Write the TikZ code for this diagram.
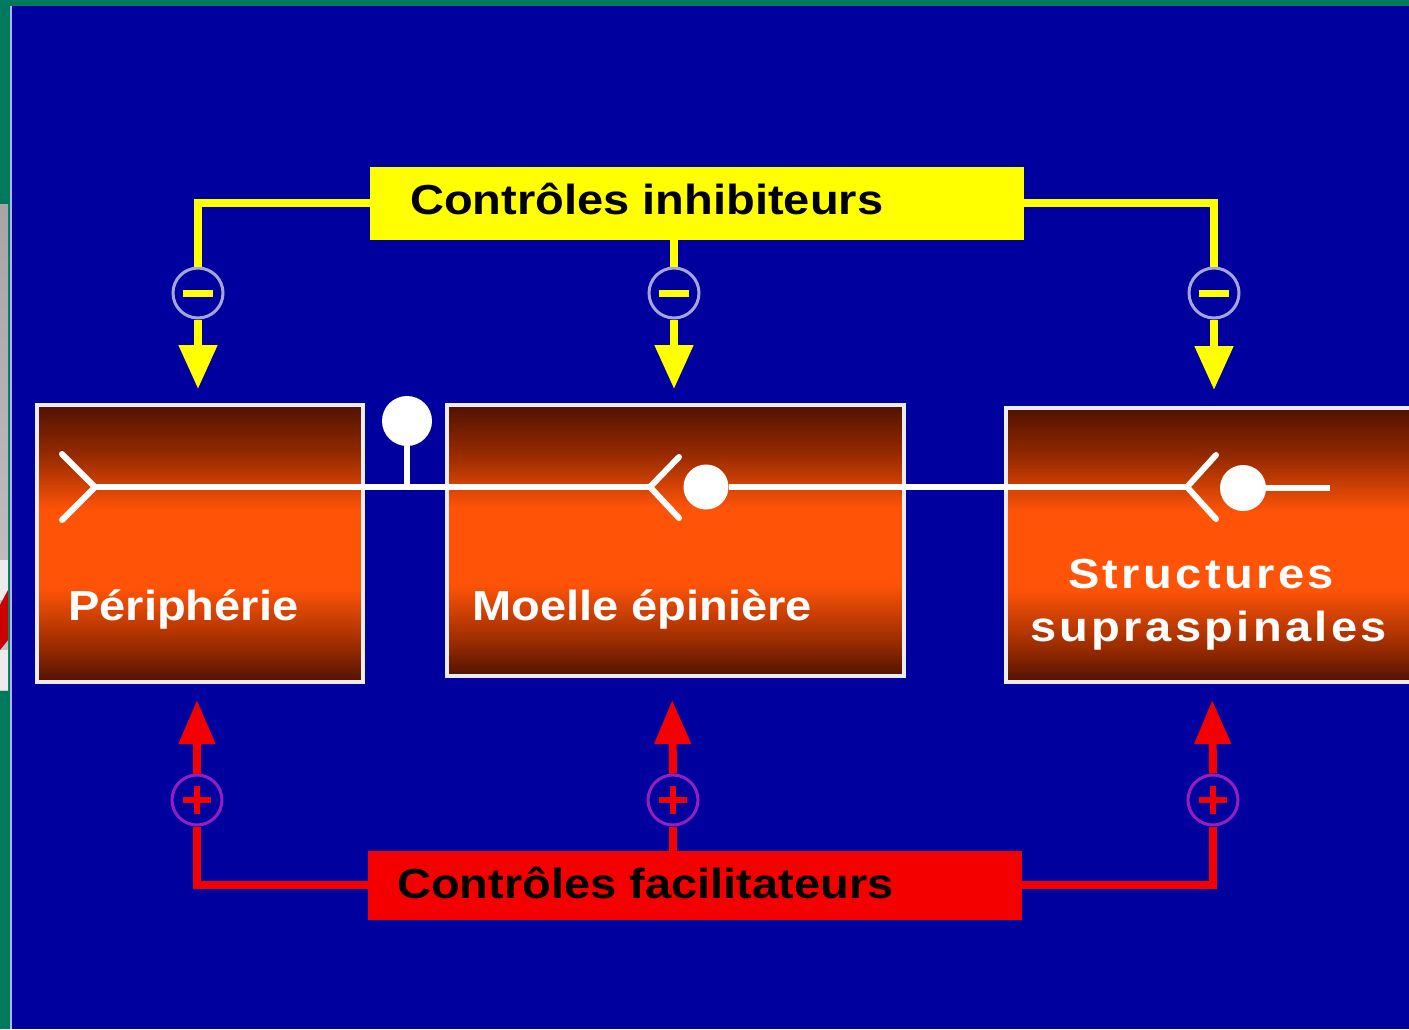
\documentclass[tikz,border=0pt]{standalone}
\usepackage{fontspec}
\setmainfont{Liberation Sans}
\newfontfamily\lblfont[FakeStretch=1.12]{Liberation Sans}
\newfontfamily\lblspaced[FakeStretch=1.12,LetterSpace=8]{Liberation Sans}
\usetikzlibrary{arrows.meta}

\definecolor{bgblue}{RGB}{0,0,158}
\definecolor{edgegreen}{RGB}{0,122,92}
\definecolor{ctlyellow}{RGB}{255,255,0}
\definecolor{ctlred}{RGB}{245,0,0}
\definecolor{ringgrey}{RGB}{165,165,215}
\definecolor{ringpurple}{RGB}{150,30,190}
\definecolor{brdark}{RGB}{80,18,0}
\definecolor{brmid}{RGB}{150,42,0}
\definecolor{orbright}{RGB}{255,84,8}
\definecolor{boxedge}{RGB}{235,235,240}

% vertical brown-orange-brown fill of the three structure boxes
\pgfdeclareverticalshading{structshade}{100bp}{
  color(0bp)=(brdark); color(25bp)=(brdark);
  color(31bp)=(brmid); color(42bp)=(orbright);
  color(56bp)=(orbright); color(66bp)=(brmid);
  color(75bp)=(brdark); color(100bp)=(brdark)}

\tikzset{
  x=1pt, y=-1pt,
  structbox/.style={draw=boxedge, line width=3.5pt, shading=structshade},
  ctlbox/.style={draw=none, minimum height=#1, inner sep=0pt},
  boxlabel/.style={text=white, inner sep=0pt, font=\lblfont\bfseries\fontsize{42}{48}\selectfont},
  ctllabel/.style={text=black, inner sep=0pt, font=\lblfont\bfseries\fontsize{42}{48}\selectfont},
  inhibline/.style={draw=ctlyellow, line width=8pt},
  facilline/.style={draw=ctlred, line width=8pt},
  inhibarrow/.style={inhibline, -{Triangle[width=37pt,length=44pt]}, shorten >=16pt},
  facilarrow/.style={facilline, -{Triangle[width=35pt,length=44pt]}, shorten >=18pt},
  minusring/.style={circle, draw=ringgrey, line width=3pt, fill=bgblue, minimum size=50pt, inner sep=0pt},
  plusring/.style={circle, draw=ringpurple, line width=3pt, fill=bgblue, minimum size=50pt, inner sep=0pt},
  axon/.style={draw=white, line width=6pt},
  fork/.style={draw=white, line width=6pt, line cap=round},
  soma/.style={circle, fill=white, inner sep=0pt, minimum size=#1}
}

\begin{document}
\begin{tikzpicture}
\useasboundingbox (0,0) rectangle (1409,1029);

% backdrop and the frame at the left and top
\fill[bgblue] (0,0) rectangle (1409,1029);
\fill[edgegreen] (0,0) rectangle (1409,6);
\fill[edgegreen] (0,0) rectangle (10,1029);
\shade[top color=gray!70, bottom color=gray!45] (0,204) rectangle (8,690);
\fill[white!85!gray] (0,560) rectangle (8,600);
\fill[red!80!black] (0,605) -- (8,590) -- (8,640) -- (0,650) -- cycle;
\fill[white!85!gray] (0,650) rectangle (8,690);
\draw[white!70!blue, line width=1.5pt] (11,6) -- (11,1029);

% the three structure boxes
\path[structbox] (37,405) rectangle (363,682);
\path[structbox] (447,405) rectangle (904,676);
\path[structbox] (1006,408) rectangle (1420,682);
\coordinate (peri) at (200,405);
\coordinate (moelle) at (675,405);
\coordinate (supra) at (1213,406);
\coordinate (periS) at (197,682);
\coordinate (moelleS) at (672,682);
\coordinate (supraS) at (1212,682);

\node[boxlabel, anchor=base west] (periT) at (68,620) {Périphérie};
\node[boxlabel, anchor=base west] (moelleT) at (472,620) {Moelle épinière};
\node[boxlabel, anchor=base west, font=\lblspaced\bfseries\fontsize{42}{48}\selectfont] (supraT1) at (1068,588) {Structures};
\node[boxlabel, anchor=base west, font=\lblspaced\bfseries\fontsize{42}{48}\selectfont] (supraT2) at (1030,641) {supraspinales};

% neuron chain running through the boxes
\coordinate (f1) at (95,487);
\coordinate (f2) at (650,487);
\coordinate (f3) at (1187,487);
\coordinate (axonEnd) at (1330,488);
\node[soma=50pt] (s1) at (407,421) {};
\node[soma=45pt] (s2) at (706,487) {};
\node[soma=46pt] (s3) at (1243,488) {};
\draw[axon] (f1) -- (f2);
\draw[axon] (s2) -- (f3);
\draw[axon] (s3) -- (axonEnd);
\draw[axon] (s1) -- (407,487);
\draw[fork] (62,454) -- (f1) -- (62,520);
\draw[fork] (679,457) -- (f2) -- (679,518);
\draw[fork] (1216,455) -- (f3) -- (1216,519);

% inhibitory controls
\node[ctlbox=73pt, fill=ctlyellow, minimum width=654pt, anchor=north west] (inhib) at (370,167) {};
\node[ctllabel, anchor=base west] (inhibT) at (410,214) {Contrôles inhibiteurs};
\node[minusring] (m1) at (198,293) {};
\node[minusring] (m2) at (674,293) {};
\node[minusring] (m3) at (1214,293) {};
\draw[inhibline] (inhib.west |- 0,203) -| (m1.north);
\draw[inhibline] (inhib.south -| m2) -- (m2.north);
\draw[inhibline] (inhib.east |- 0,203) -| (m3.north);
\draw[inhibarrow] (m1.south) -- (m1 |- peri);
\draw[inhibarrow] (m2.south) -- (m2 |- moelle);
\draw[inhibarrow] (m3.south) -- (m3 |- supra);
\foreach \c in {m1,m2,m3}
  \fill[ctlyellow] ([xshift=-15pt,yshift=-3.5pt]\c.center) rectangle ([xshift=15pt,yshift=3.5pt]\c.center);

% facilitatory controls
\node[ctlbox=69pt, fill=ctlred, minimum width=654pt, anchor=north west] (facil) at (368,851) {};
\node[ctllabel, anchor=base west] (facilT) at (397,898) {Contrôles facilitateurs};
\node[plusring] (p1) at (197,800) {};
\node[plusring] (p2) at (673,800) {};
\node[plusring] (p3) at (1213,800) {};
\draw[facilline] (facil.west |- 0,885) -| (p1.south);
\draw[facilline] (facil.north -| p2) -- (p2.south);
\draw[facilline] (facil.east |- 0,885) -| (p3.south);
\draw[facilarrow] (p1.north) -- (periS);
\draw[facilarrow] (p2.north) -- (moelleS);
\draw[facilarrow] (p3.north) -- (supraS);
\foreach \c in {p1,p2,p3} {
  \fill[ctlred] ([xshift=-14pt,yshift=-3pt]\c.center) rectangle ([xshift=14pt,yshift=3pt]\c.center);
  \fill[ctlred] ([xshift=-3pt,yshift=-14pt]\c.center) rectangle ([xshift=3pt,yshift=14pt]\c.center);
}
\end{tikzpicture}
\end{document}
